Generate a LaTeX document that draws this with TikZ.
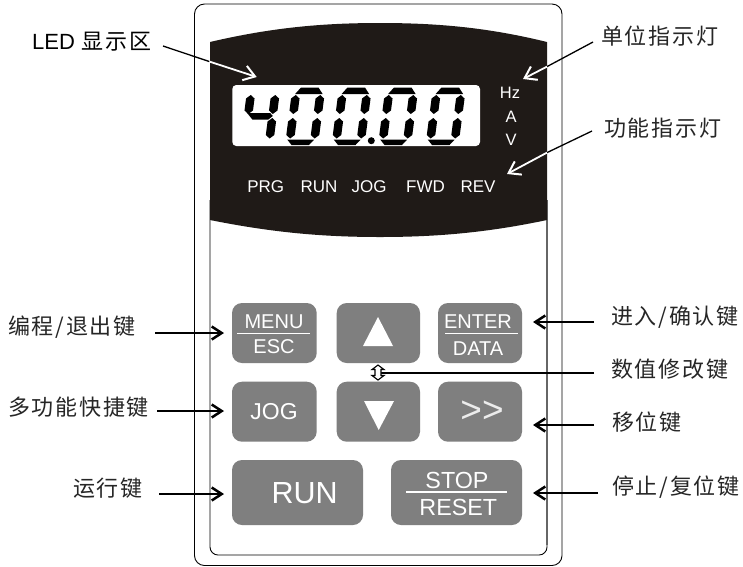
\documentclass[tikz,border=0pt]{standalone}
\usepackage{fontspec}
\setmainfont{Liberation Sans}
\newfontfamily\cjk{Noto Sans CJK SC}[LetterSpace=8]
\usetikzlibrary{arrows.meta}
\definecolor{panelblack}{HTML}{1F1A17}
\definecolor{keygray}{HTML}{7F7F7F}
\newcommand\fsz[1]{\fontsize{#1}{#1}\selectfont}
\newcommand\segV[3]{\fill (#1+4.25,#2) -- (#1+8.5,#2+3.5) -- (#1+8.5,#3-3.5) -- (#1+4.25,#3) -- (#1,#3-3.5) -- (#1,#2+3.5) -- cycle;}
\newcommand\segTop{\fill (3.5,-51) -- (8.5,-57.5) -- (26,-57.5) -- (31,-51) -- cycle;}
\newcommand\segBot{\fill (1.5,-5.5) -- (28.5,-5.5) -- (24,0) -- (6.5,0) -- cycle;}
\newcommand\digitzero[1]{\begin{scope}[shift={(#1,145)},xslant=.13]
\segTop \segBot
\segV{0}{-50}{-31}\segV{0}{-27}{-6.5}\segV{24.5}{-50}{-31}\segV{24.5}{-27}{-6.5}
\end{scope}}
\newcommand\digitfour[1]{\begin{scope}[shift={(#1,145)},xslant=.13]
\segV{0}{-50}{-31}\segV{24.5}{-50}{-31}\segV{24.5}{-27}{-6.5}
\fill (3,-32) -- (26,-32) -- (29,-29) -- (25,-25.5) -- (9,-25.5) -- cycle;
\end{scope}}
\tikzset{
  x=1pt,y=-1pt,
  panelline/.style={draw=black,line width=.9pt},
  keybox/.style={fill=keygray,rounded corners=10pt},
  keytext/.style={text=white,inner sep=0pt,anchor=center},
  keyrule/.style={draw=white,line width=1.4pt},
  ledtext/.style={text=white,inner sep=0pt,anchor=center,font=\fsz{17}},
  unittext/.style={text=white,inner sep=0pt,anchor=center,font=\fsz{16.5}},
  cnlabel/.style={inner sep=0pt,anchor=west,text=black!85,font=\fsz{22}\cjk},
  boldarrow/.style={draw=black,line width=2.5pt,-{Straight Barb[length=10pt,width=13pt,line width=2.5pt]}},
  thinblack/.style={draw=black,line width=1.3pt},
  whitearrow/.style={draw=white,line width=1.8pt,-{Straight Barb[length=11pt,width=15pt,line width=2pt]}}
}
\begin{document}
\begin{tikzpicture}
\useasboundingbox (0,0) rectangle (743,566);
\fill[white] (0,0) rectangle (743,566);
% housing
\draw[panelline,rounded corners=10pt] (194.5,4) rectangle (562,565.5);
\draw[panelline,rounded corners=8pt] (210,200) -- (210,555) -- (547,555) -- (547,200);
\draw[draw=black!60,line width=1.4pt] (547,200) -- (547,545);
% display field
\fill[panelblack] (210,42) .. controls (270,28) and (320,23) .. (380,23) .. controls (440,23) and (490,28) .. (547,42)
  -- (547,220) .. controls (490,232) and (440,237) .. (380,237) .. controls (320,237) and (270,232) .. (210,220) -- cycle;
\fill[white,rounded corners=4pt] (232.3,85) rectangle (480,146);
\digitfour{240}
\digitzero{285}
\digitzero{331.5}
\digitzero{378}
\digitzero{425.5}
\fill (371.3,140.7) circle[radius=3.5];
\node[unittext] (hz) at (510,93) {Hz};
\node[unittext] (ua) at (511,117) {A};
\node[unittext] (uv) at (511,140) {V};
\node[ledtext] (prg) at (265.7,187) {PRG};
\node[ledtext] (lrun) at (319,187) {RUN};
\node[ledtext] (ljog) at (369,187) {JOG};
\node[ledtext] (fwd) at (425.5,187) {FWD};
\node[ledtext] (rev) at (478,187) {REV};
% keys
\fill[keybox] (232,303) rectangle (316.7,363);
\fill[keybox] (336.7,303) rectangle (420,363);
\fill[keybox] (438,303) rectangle (522,363);
\fill[keybox] (232,381.7) rectangle (316.7,441.7);
\fill[keybox] (336.7,381.7) rectangle (420,441.7);
\fill[keybox] (438,381.7) rectangle (522,441.7);
\fill[keybox] (232,460) rectangle (363,525);
\fill[keybox] (391,460) rectangle (522,525);
\node[keytext,font=\fsz{20}] (menu) at (274,322) {MENU};
\draw[keyrule] (237,333.3) -- (310,333.3);
\node[keytext,font=\fsz{20}] (esc) at (274,347) {ESC};
\node[keytext,font=\fsz{20}] (enter) at (478,322) {ENTER};
\draw[keyrule] (445,333.5) -- (518,333.5);
\node[keytext,font=\fsz{20}] (data) at (478,349) {DATA};
\node[keytext,font=\fsz{23}] (jog) at (274,412) {JOG};
\node[keytext,font=\fsz{37},text=white!85!keygray] (shift) at (482,412) {>{}>};
\node[keytext,font=\fsz{30.5}] (run) at (304.7,493) {RUN};
\node[keytext,font=\fsz{23.3}] (stop) at (457,480) {STOP};
\draw[keyrule] (406,492) -- (507,492);
\node[keytext,font=\fsz{23.3}] (reset) at (458.3,507) {RESET};
\fill[white] (378,317) -- (393,346) -- (363,346) -- cycle;
\fill[white] (364,401) -- (394,401) -- (378.7,430) -- cycle;
% labels
\node[cnlabel,text=black] (led) at (32,42) {{\fontspec{Liberation Sans}LED} 显示区};
\node[cnlabel] (unit) at (601,36) {单位指示灯};
\node[cnlabel] (func) at (604,128) {功能指示灯};
\node[cnlabel] (lprog) at (8,327) {编程/退出键};
\node[cnlabel] (lmulti) at (8,407) {多功能快捷键};
\node[cnlabel] (lrunk) at (73,488) {运行键};
\node[cnlabel] (lent) at (611,317) {进入/确认键};
\node[cnlabel] (lval) at (611,369) {数值修改键};
\node[cnlabel] (lshift) at (612,422) {移位键};
\node[cnlabel] (lstop) at (612,487) {停止/复位键};
% connector end points
\coordinate (a1) at (163,46);  \coordinate (a2) at (209.5,61.6);  \coordinate (a3) at (256.7,77);
\coordinate (b1) at (593,42);  \coordinate (b2) at (547,66.6);    \coordinate (b3) at (523,79);
\coordinate (c1) at (592,131); \coordinate (c2) at (547,152.6);   \coordinate (c3) at (507,174);
\coordinate (d1) at (155,333); \coordinate (d2) at (224,333);
\coordinate (e1) at (157,411); \coordinate (e2) at (224,411);
\coordinate (f1) at (159,494); \coordinate (f2) at (224,494);
\coordinate (g1) at (594,322); \coordinate (g2) at (533,322);
\coordinate (h1) at (594,425); \coordinate (h2) at (533,425);
\coordinate (i1) at (598,493); \coordinate (i2) at (533,493);
\coordinate (j1) at (594,373); \coordinate (j2) at (381,373);
% connectors
\draw[thinblack] (a1) -- (a2); \draw[whitearrow] (a2) -- (a3);
\draw[thinblack] (b1) -- (b2); \draw[whitearrow] (b2) -- (b3);
\draw[thinblack] (c1) -- (c2); \draw[whitearrow] (c2) -- (c3);
\draw[boldarrow] (d1) -- (d2);
\draw[boldarrow] (e1) -- (e2);
\draw[boldarrow] (f1) -- (f2);
\draw[boldarrow] (g1) -- (g2);
\draw[boldarrow] (h1) -- (h2);
\draw[boldarrow] (i1) -- (i2);
\draw[thinblack] (j1) -- (j2);
\draw[fill=white,draw=black,line width=1.1pt] (378,365) -- (384,369.5) -- (381,369.5) -- (381,375.5) -- (384,375.5) -- (378,380) -- (372,375.5) -- (375,375.5) -- (375,369.5) -- (372,369.5) -- cycle;
\end{tikzpicture}
\end{document}
